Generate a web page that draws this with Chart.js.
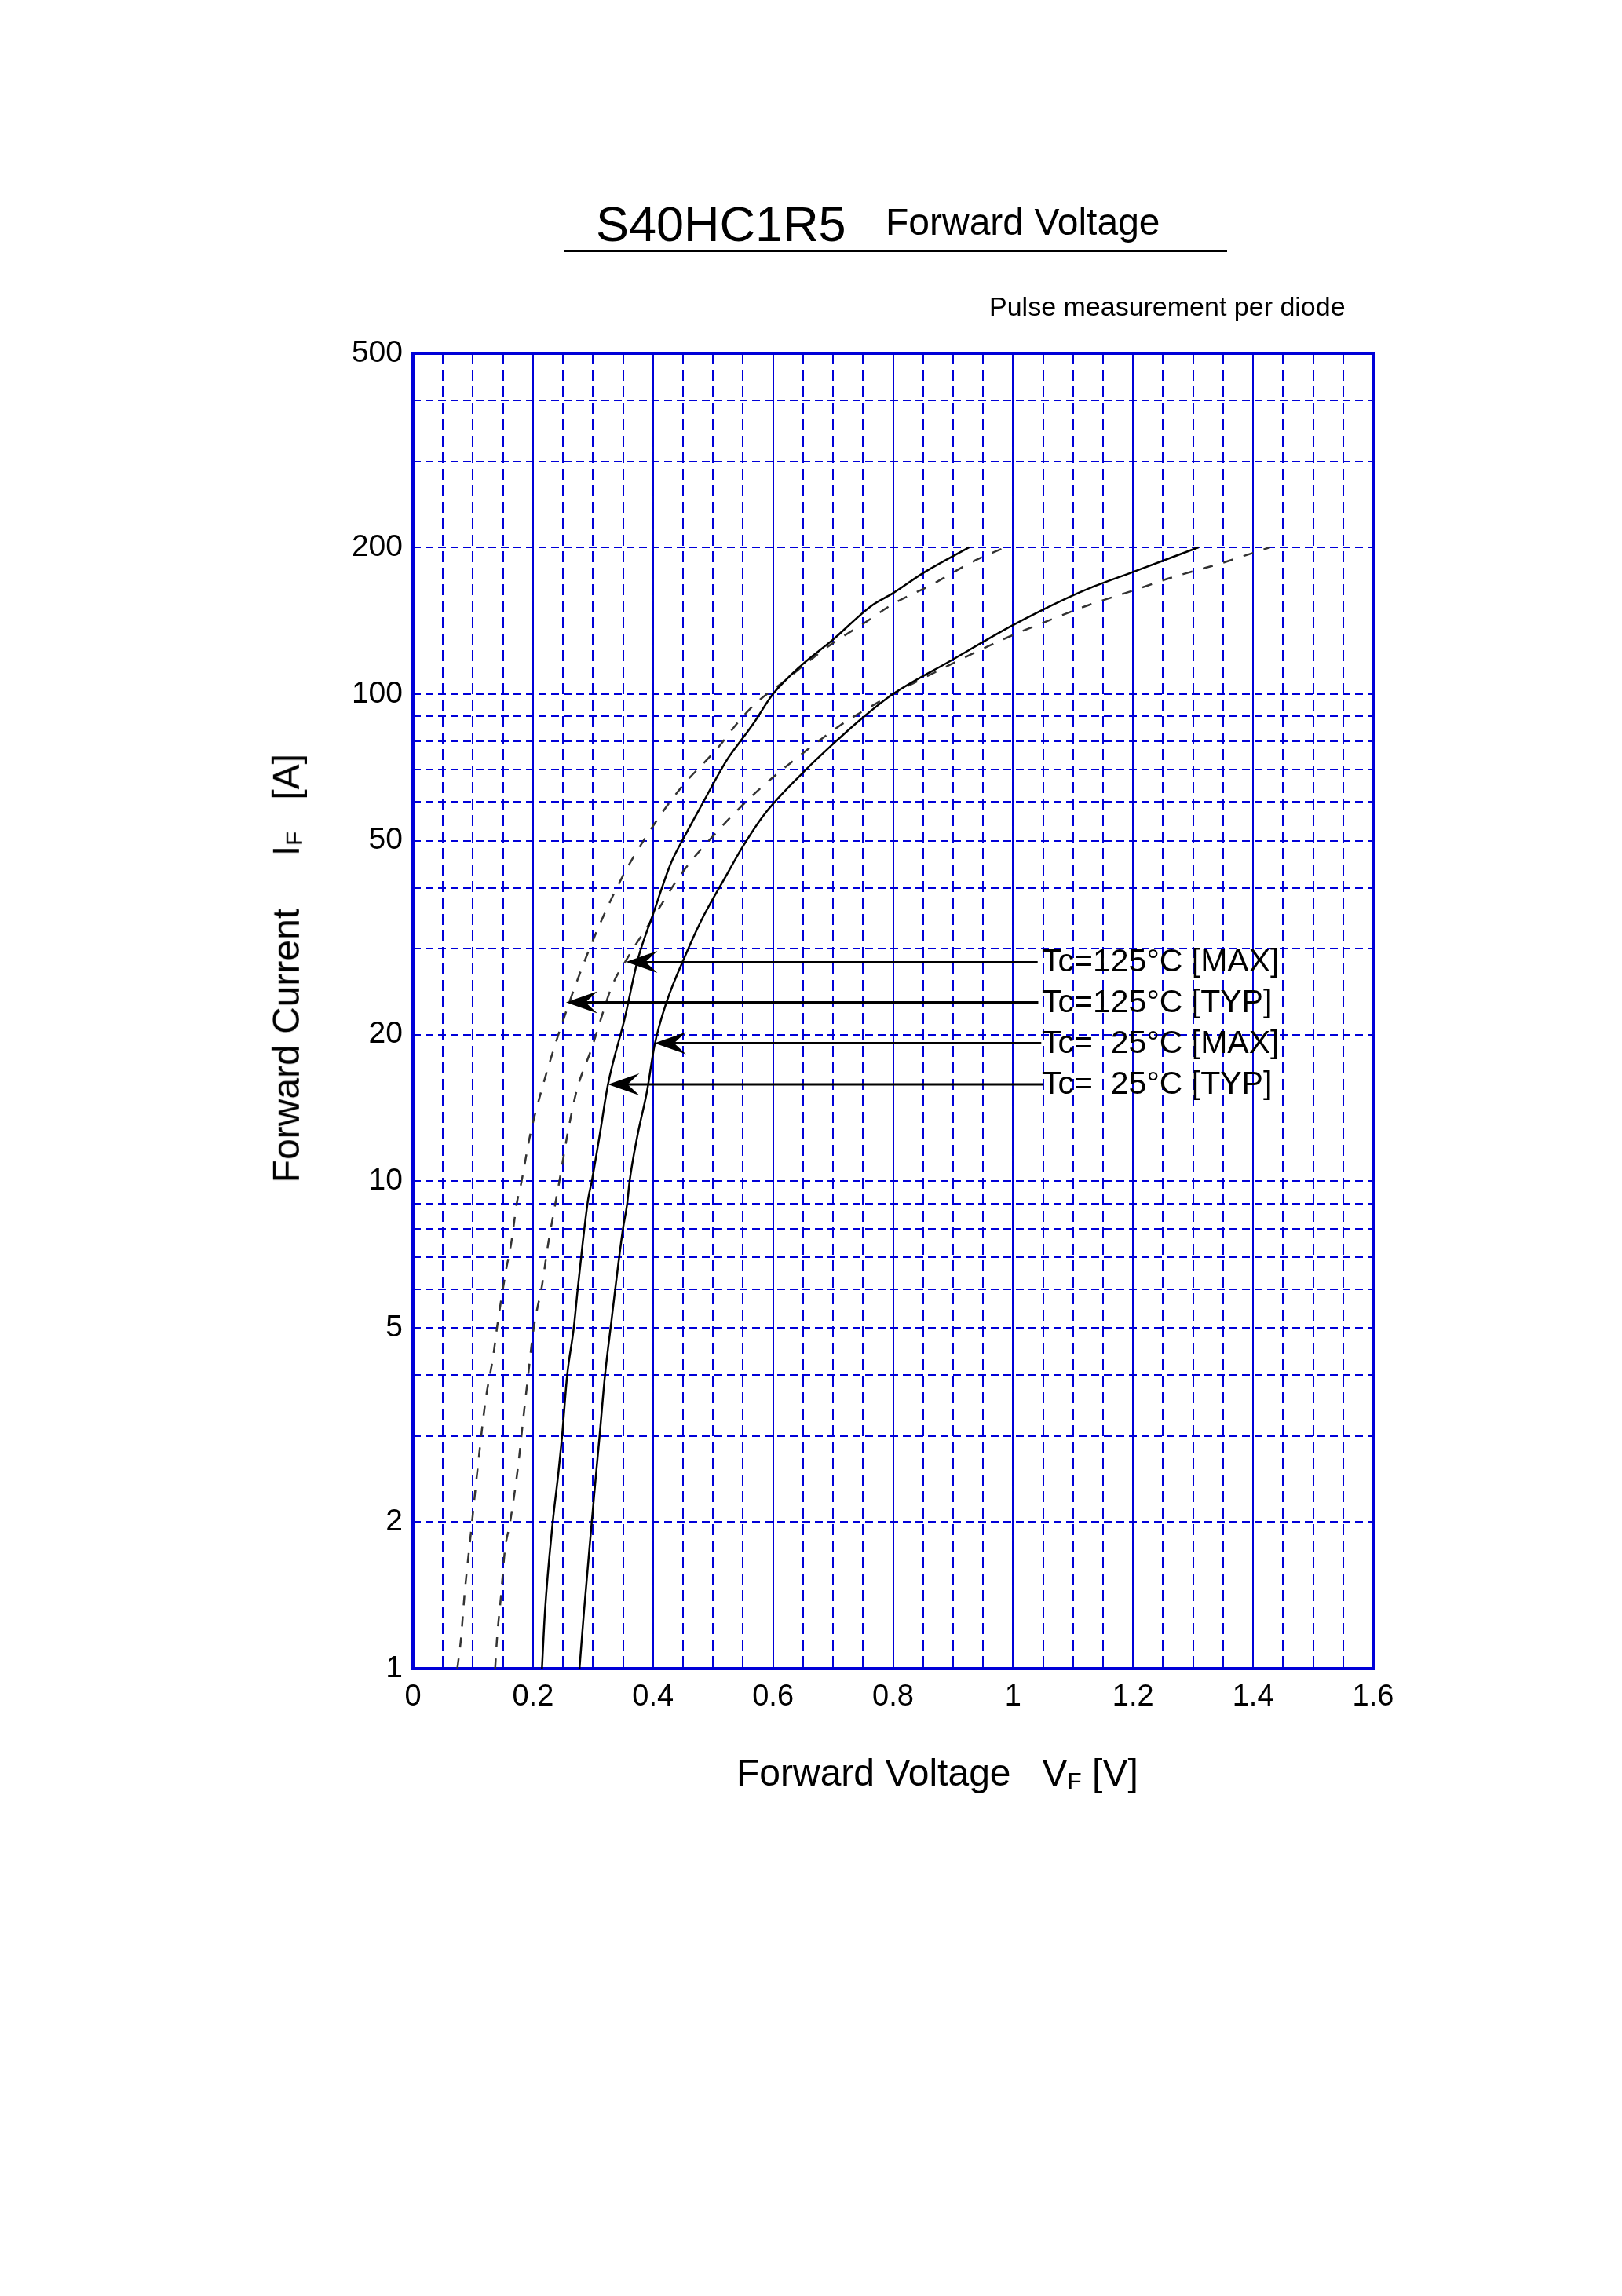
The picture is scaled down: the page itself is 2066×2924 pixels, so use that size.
<!DOCTYPE html>
<html><head><meta charset="utf-8">
<script src="https://cdn.jsdelivr.net/npm/chart.js@4.4.1/dist/chart.umd.min.js"></script>
<style>
html,body{margin:0;padding:0;background:#fff;}
body{width:2066px;height:2924px;position:relative;overflow:hidden;font-family:"Liberation Sans",Arial,Helvetica,sans-serif;color:#000;}
.t{position:absolute;white-space:pre;line-height:1;}
canvas{position:absolute;left:0;top:0;}
sub{font-size:0.62em;vertical-align:-0.12em;line-height:1;}
</style></head><body>
<canvas id="c" width="2066" height="2924"></canvas>
<div class="t" style="left:759px;top:254px;font-size:63px;">S40HC1R5</div>
<div class="t" style="left:1128px;top:259px;font-size:48px;">Forward Voltage</div>
<div style="position:absolute;left:719px;top:318px;width:844px;height:3px;background:#000;"></div>
<div class="t" style="left:1260px;top:373px;font-size:34px;">Pulse measurement per diode</div>
<div class="t" style="left:938px;top:2234px;font-size:48px;">Forward Voltage   V<sub>F</sub> [V]</div>
<div class="t" style="left:65px;top:1209px;width:600px;text-align:center;font-size:48px;transform:rotate(-90deg);">Forward Current     I<sub>F</sub>   [A]</div>
<script>
// ---- data ----
const vf25Typ = [0.215,0.220,0.233,0.242,0.2485,0.257,0.268,0.2745,0.283,0.292,0.298,0.311,0.325,0.3525,0.375,0.40,0.43,0.4525,0.4825,0.5225,0.55,0.5675,0.60,0.649,0.699,0.765,0.80,0.85,0.927];
const if25Typ = [1,1.31,2,2.5,3,4,5,6,7.5,9.2,10,12.4,15.8,21.5,28.6,35.3,45,51,59.6,73,81.3,87,100,115,129,152,161,177,200];

const vf25Max = [0.2775,0.285,0.298,0.305,0.311,0.32,0.331,0.337,0.35,0.357,0.361,0.374,0.39,0.4025,0.4225,0.4525,0.48,0.5225,0.55,0.585,0.6475,0.7075,0.7475,0.80,0.896,0.993,1.05,1.118,1.20,1.309];
const if25Max = [1,1.31,2,2.5,3,4,5.2,6,8,9,10,12.4,15.3,19.0,23.3,28.8,34.2,42.5,48.7,56.5,68.5,80.5,89,100,117,137,149,163,178,200];

const vf125Typ = [0.074,0.08,0.086,0.097,0.108,0.121,0.134,0.14,0.155,0.164,0.173,0.181,0.195,0.2125,0.2475,0.2975,0.3475,0.3975,0.4475,0.5075,0.5425,0.5725,0.618,0.649,0.699,0.749,0.80,0.862,0.937,0.987];
const if125Typ = [1,1.15,1.42,1.92,2.59,3.55,4.4,5,6.56,7.5,9.0,10,12.4,15.1,20.9,30.7,41.8,53,64.4,77.4,87.7,96,106,114,127,139,153,167,188,200];

const vf125Max = [0.137,0.14,0.147,0.153,0.162,0.175,0.184,0.192,0.20,0.207,0.214,0.225,0.238,0.244,0.257,0.2725,0.2975,0.3325,0.355,0.40,0.4475,0.5075,0.5725,0.6475,0.7125,0.7525,0.80,0.896,0.993,1.05,1.118,1.20,1.262,1.35,1.428];
const if125Max = [1,1.15,1.42,1.74,2,2.59,3.27,4,4.87,5.47,6.0,7.4,9.1,10,12.4,15.3,18.7,25.3,28.4,34.7,42.8,52.3,63,75.2,86.3,92.6,100,115,131,140,151,163,173,186,200];

const xTickLabels = [0,0.2,0.4,0.6,0.8,1,1.2,1.4,1.6];
const yTickLabels = [1,2,5,10,20,50,100,200,500];
const yGridValues = [1,2,3,4,5,6,7,8,9,10,20,30,40,50,60,70,80,90,100,200,300,400,500];
const xGridValues = [];
for (let i = 0; i <= 32; i++) xGridValues.push(Math.round(i * 5) / 100);

const annLabels = ['Tc=125°C [MAX]','Tc=125°C [TYP]','Tc=  25°C [MAX]','Tc=  25°C [TYP]'];
const annTipV = [0.355,0.255,0.4025,0.325];
const annTipI = [28.2,23.3,19.2,15.8];
const annEndV = [1.041,1.042,1.047,1.050];
const annTextV = 1.048;

// ---- styling ----
const BLUE = '#0000d8';
const FONT = '"Liberation Sans", Arial, Helvetica, sans-serif';
const pts = (v, c) => v.map((x, i) => ({x: x, y: c[i]}));
const isMajorX = v => Math.round(v * 100) % 20 === 0;

const frame = {
  id: 'frame',
  beforeDatasetsDraw(chart) {
    const {ctx, chartArea: a} = chart;
    ctx.save();
    ctx.strokeStyle = BLUE;
    ctx.lineWidth = 4;
    ctx.strokeRect(a.left, a.top, a.right - a.left, a.bottom - a.top);
    ctx.restore();
  },
  afterDatasetsDraw(chart) {
    const {ctx, scales: {x, y}} = chart;
    ctx.save();
    for (let i = 0; i < annLabels.length; i++) {
      const tx = x.getPixelForValue(annTipV[i]);
      const ty = y.getPixelForValue(annTipI[i]);
      const ex = x.getPixelForValue(annEndV[i]);
      ctx.strokeStyle = '#000';
      ctx.lineWidth = i === 0 ? 2 : 3;
      ctx.beginPath();
      ctx.moveTo(tx + 20, ty);
      ctx.lineTo(ex, ty);
      ctx.stroke();
      ctx.fillStyle = '#000';
      ctx.beginPath();
      ctx.moveTo(tx, ty);
      ctx.lineTo(tx + 40, ty - 14);
      ctx.lineTo(tx + 25, ty);
      ctx.lineTo(tx + 40, ty + 14);
      ctx.closePath();
      ctx.fill();
      ctx.font = '41px ' + FONT;
      ctx.textBaseline = 'middle';
      ctx.textAlign = 'left';
      ctx.fillText(annLabels[i], x.getPixelForValue(annTextV), ty + 1);
    }
    ctx.restore();
  }
};

new Chart(document.getElementById('c'), {
  type: 'scatter',
  data: {
    datasets: [
      {label: 'Tc=25°C [TYP]', data: pts(vf25Typ, if25Typ), borderColor: '#000', borderWidth: 2.5},
      {label: 'Tc=25°C [MAX]', data: pts(vf25Max, if25Max), borderColor: '#000', borderWidth: 2.5},
      {label: 'Tc=125°C [TYP]', data: pts(vf125Typ, if125Typ), borderColor: '#333', borderWidth: 2.5, borderDash: [13, 14]},
      {label: 'Tc=125°C [MAX]', data: pts(vf125Max, if125Max), borderColor: '#333', borderWidth: 2.5, borderDash: [13, 14]}
    ].map(d => Object.assign(d, {showLine: true, pointRadius: 0, cubicInterpolationMode: 'monotone', fill: false}))
  },
  options: {
    responsive: false,
    devicePixelRatio: 1,
    animation: false,
    layout: {padding: {left: 0, top: 450, right: 317, bottom: 699}},
    plugins: {legend: {display: false}, tooltip: {enabled: false}, title: {display: false}},
    scales: {
      x: {
        type: 'linear', min: 0, max: 1.6,
        afterBuildTicks: s => { s.ticks = xGridValues.map(v => ({value: v})); },
        afterFit: s => { s.height = 100; },
        ticks: {
          autoSkip: false, maxRotation: 0, padding: 14, color: '#000',
          font: {family: FONT, size: 38},
          callback: v => (isMajorX(v) && xTickLabels.some(t => Math.abs(t - v) < 1e-6)) ? String(Math.round(v * 10) / 10) : ''
        },
        grid: {color: BLUE, lineWidth: 2, drawTicks: false},
        border: {display: false, dash: ctx => (ctx.tick && !isMajorX(ctx.tick.value)) ? [14, 7] : []}
      },
      y: {
        type: 'logarithmic', min: 1, max: 500,
        afterBuildTicks: s => { s.ticks = yGridValues.map(v => ({value: v})); },
        afterFit: s => { s.width = 526; },
        ticks: {
          autoSkip: false, padding: 13, color: '#000',
          font: {family: FONT, size: 39},
          callback: v => yTickLabels.includes(v) ? String(v) : ''
        },
        grid: {color: BLUE, lineWidth: 2, drawTicks: false},
        border: {display: false, dash: [10, 6]}
      }
    }
  },
  plugins: [frame]
});
</script>
</body></html>
